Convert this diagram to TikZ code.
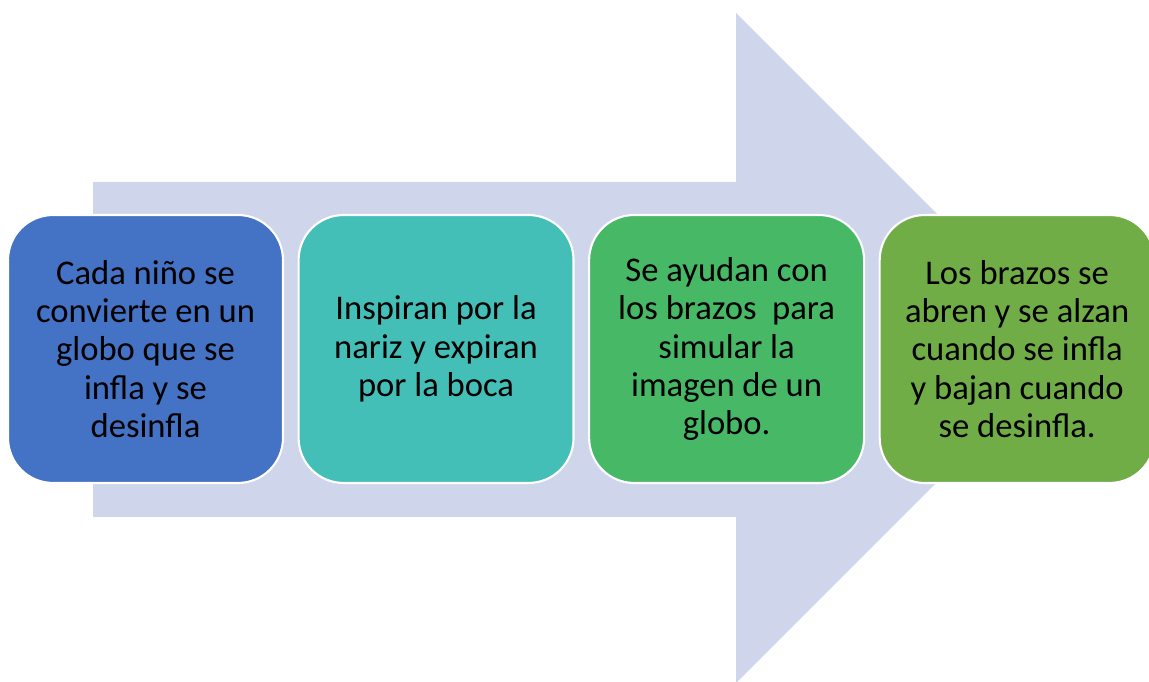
\documentclass[tikz,border=0pt]{standalone}
\usepackage{fontspec}
\setmainfont{Carlito}
\usetikzlibrary{positioning}
\definecolor{flecha}{HTML}{CFD5EA}
\definecolor{azul}{HTML}{4472C4}
\definecolor{turquesa}{HTML}{43BFB8}
\definecolor{verde}{HTML}{47B865}
\definecolor{oliva}{HTML}{70AD47}
\begin{document}
\begin{tikzpicture}[x=0.02cm, y=0.02cm,
    paso/.style={draw=white, line width=1.2pt, rounded corners=0.9cm,
        minimum width=5.5cm, minimum height=5.36cm, align=center,
        font=\fontsize{19.7}{21.8}\selectfont, text=black}]
        \useasboundingbox (0,0) rectangle (1149,682);

        % Flecha de fondo
        \fill[flecha] (93,500) -- (736,500) -- (736,669) -- (1071,334)
            -- (736,-1) -- (736,165) -- (93,165) -- cycle;

        % Pasos
        \node[paso, fill=azul] (globo) at (145.5,333)
            {Cada niño se\\convierte en un\\globo que se\\infla y se\\desinfla};
        \node[paso, fill=turquesa, right=0.27cm of globo] (respira)
            {Inspiran por la\\nariz y expiran\\por la boca};
        \node[paso, fill=verde, right=0.27cm of respira] (brazos)
            {Se ayudan con\\los brazos\ \ para\\simular la\\imagen de un\\globo.};
        \node[paso, fill=oliva, right=0.27cm of brazos] (alzan)
            {Los brazos se\\abren y se alzan\\cuando se infla\\y bajan cuando\\se desinfla.};
\end{tikzpicture}
\end{document}
